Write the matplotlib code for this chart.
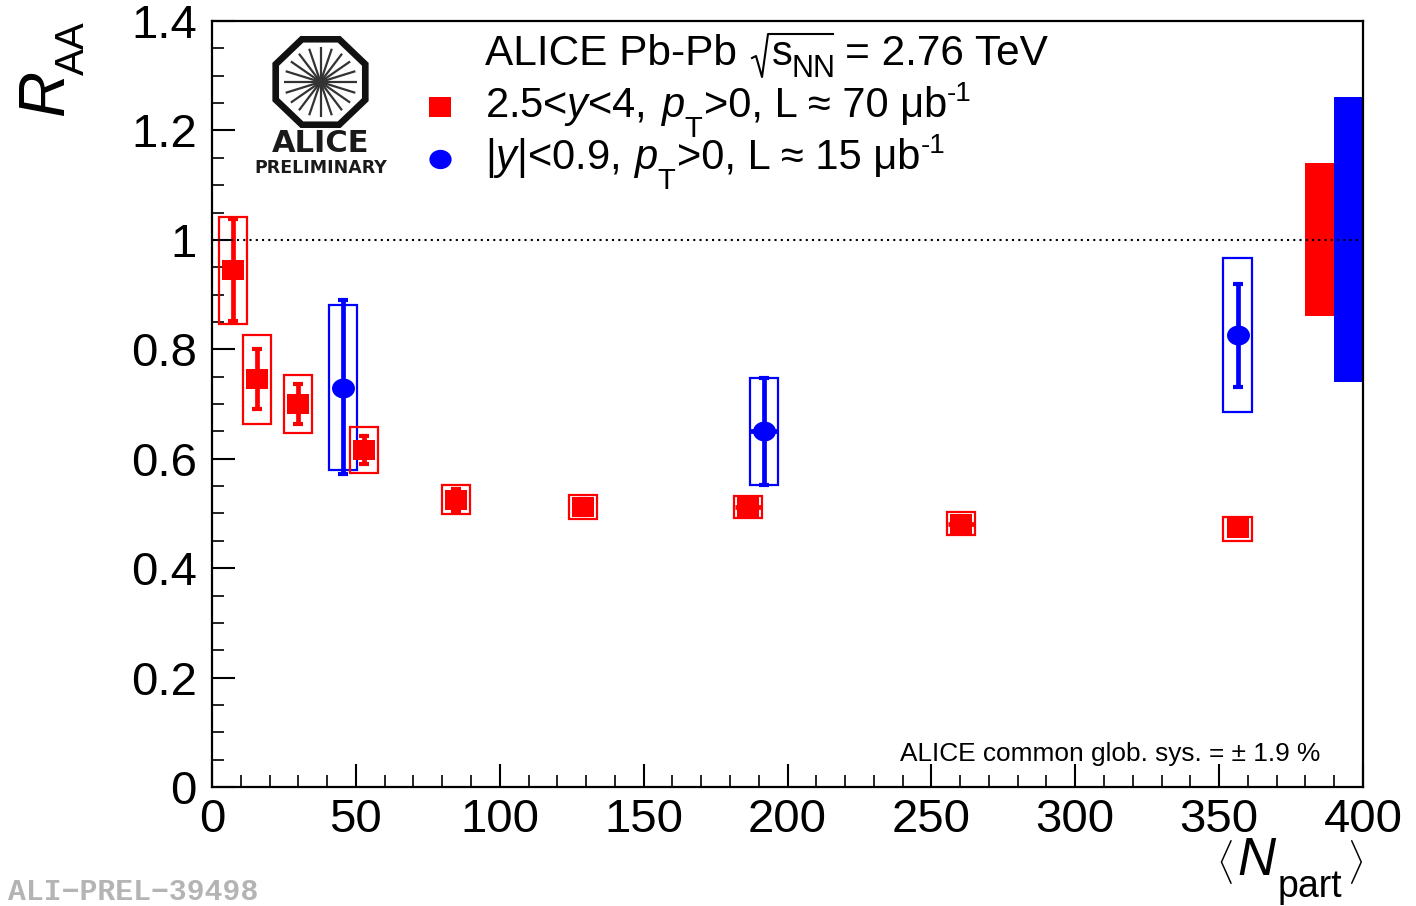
#!/usr/bin/env python

import matplotlib
matplotlib.use('Agg')
import matplotlib.pyplot as plt
import numpy as np
from matplotlib.lines import Line2D
from matplotlib.patches import Polygon, Rectangle
from matplotlib.path import Path
from matplotlib.transforms import Affine2D

plt.rcParams['font.family'] = ['Liberation Sans', 'DejaVu Sans']
plt.rcParams['mathtext.fontset'] = 'custom'
plt.rcParams['mathtext.rm'] = 'Liberation Sans'
plt.rcParams['mathtext.it'] = 'Liberation Sans:italic'
plt.rcParams['mathtext.bf'] = 'Liberation Sans:bold'

# forward rapidity
fwd_npart = [7.3, 15.6, 29.9, 52.8, 84.8, 128.9, 186.3, 260.3, 356.5]
fwd_raa = [0.945, 0.746, 0.700, 0.616, 0.525, 0.512, 0.512, 0.481, 0.473]
fwd_stat_lo = [0.852, 0.690, 0.664, 0.590, 0.505, 0.498, 0.498, 0.468, 0.460]
fwd_stat_hi = [1.038, 0.800, 0.737, 0.642, 0.545, 0.526, 0.526, 0.494, 0.486]
fwd_sys_lo = [0.846, 0.664, 0.647, 0.574, 0.499, 0.490, 0.492, 0.461, 0.450]
fwd_sys_hi = [1.042, 0.826, 0.753, 0.658, 0.552, 0.534, 0.532, 0.503, 0.494]
fwd_xerr = [0, 0, 0, 0, 0, 0, 4.6, 4.6, 0]

# mid rapidity
mid_npart = [45.5, 191.8, 356.5]
mid_raa = [0.729, 0.651, 0.826]
mid_stat_lo = [0.572, 0.552, 0.731]
mid_stat_hi = [0.890, 0.748, 0.920]
mid_sys_lo = [0.580, 0.552, 0.686]
mid_sys_hi = [0.881, 0.748, 0.967]
mid_xerr = [0, 5.0, 0]

# global uncertainty boxes: x range, y range
fwd_global = [380, 390, 0.861, 1.141]
mid_global = [390, 400, 0.740, 1.261]

x_ticks = [0, 50, 100, 150, 200, 250, 300, 350, 400]
y_ticks = [0, 0.2, 0.4, 0.6, 0.8, 1.0, 1.2, 1.4]
y_labels = ['0', '0.2', '0.4', '0.6', '0.8', '1', '1.2', '1.4']

W, H = 1416.0, 906.0
SYS_HALF = 5.0

# the reference markers are a bit wider than tall
SQUARE = Path([(-1.15, -1), (1.15, -1), (1.15, 1), (-1.15, 1), (-1.15, -1)], closed=True)
ELLIPSE = Path.unit_circle().transformed(Affine2D().scale(1.15, 1.0))


def fx(px):
    return px / W


def fy(px):
    return 1 - px / H


def draw_points(ax, x, y, lo, hi, slo, shi, xerr, color, marker, ms):
    x = np.array(x)
    y = np.array(y)
    for i in range(len(x)):
        ax.add_patch(Rectangle((x[i] - SYS_HALF, slo[i]), 2 * SYS_HALF, shi[i] - slo[i],
                               fill=False, edgecolor=color, linewidth=1.6, zorder=3))
    ax.errorbar(x, y, yerr=[y - np.array(lo), np.array(hi) - y], fmt='none', ecolor=color,
                elinewidth=3.4, capsize=3.5, capthick=3, zorder=4)
    ax.errorbar(x, y, xerr=xerr, fmt='none', ecolor=color, elinewidth=3.4, capsize=0, zorder=4)
    ax.plot(x, y, linestyle='none', marker=marker, color=color, markersize=ms,
            markeredgewidth=0, zorder=5)


def draw_logo(fig):
    lg = fig.add_axes([fx(268), fy(128), 105 / W, 92 / H])
    lg.set_xlim(-1.09, 1.09)
    lg.set_ylim(-1.0, 1.0)
    lg.axis('off')
    ang = np.deg2rad(22.5 + 45 * np.arange(8))
    oct_x = np.cos(ang) / np.cos(np.deg2rad(22.5))
    oct_y = np.sin(ang) / np.cos(np.deg2rad(22.5))
    lg.add_patch(Polygon(np.c_[oct_x * 0.93, oct_y * 0.93], closed=True, fill=False,
                         edgecolor='#111111', linewidth=4.8, joinstyle='miter'))
    for a in np.deg2rad(np.arange(0, 180, 18)):
        r = 0.76
        lg.plot([-r * np.cos(a), r * np.cos(a)], [-r * np.sin(a), r * np.sin(a)],
                color='#333333', linewidth=1.6, solid_capstyle='butt')
    fig.text(fx(321), fy(143), 'ALICE', fontsize=22, fontweight='bold', color='#1a1a1a',
             family='DejaVu Sans', ha='center', va='center')
    fig.text(fx(321), fy(168), 'PRELIMINARY', fontsize=12.5, fontweight='bold', color='#1a1a1a',
             family='DejaVu Sans', ha='center', va='center')


def label(fig, x, y, s, size=30, **kw):
    # x, y in picture pixels, y is the baseline
    fig.text(fx(x), fy(y), s, fontsize=size, va='baseline', **kw)


fig = plt.figure(figsize=(14.16, 9.06), dpi=100)
ax = fig.add_axes([fx(212), fy(787), (1363 - 212) / W, (787 - 21) / H])
ax.set_xlim(0, 400)
ax.set_ylim(0, 1.4)

ax.axhline(1.0, color='black', linestyle=(0, (1, 2)), linewidth=1.5, zorder=6)

ax.add_patch(Rectangle((fwd_global[0], fwd_global[2]), fwd_global[1] - fwd_global[0],
                       fwd_global[3] - fwd_global[2], color='#ff0000', linewidth=0, zorder=2))
ax.add_patch(Rectangle((mid_global[0], mid_global[2]), mid_global[1] - mid_global[0],
                       mid_global[3] - mid_global[2], color='#0000ff', linewidth=0, zorder=2))

draw_points(ax, mid_npart, mid_raa, mid_stat_lo, mid_stat_hi, mid_sys_lo, mid_sys_hi, mid_xerr,
            '#0000ff', ELLIPSE, 16.5)
draw_points(ax, fwd_npart, fwd_raa, fwd_stat_lo, fwd_stat_hi, fwd_sys_lo, fwd_sys_hi, fwd_xerr,
            '#ff0000', SQUARE, 16.5)

ax.set_xticks(x_ticks)
ax.set_yticks(y_ticks)
ax.set_yticklabels(y_labels)
ax.set_xticks(np.arange(0, 401, 10), minor=True)
ax.set_yticks(np.arange(0, 1.401, 0.05), minor=True)
ax.tick_params(which='major', direction='in', length=16.5, width=1.5, labelsize=34, pad=11)
ax.tick_params(which='minor', direction='in', length=8.5, width=1.2)
ax.tick_params(axis='x', pad=8)
for s in ax.spines.values():
    s.set_linewidth(1.6)

# axis titles
fig.text(fx(46), fy(93), 'R', fontsize=46, style='italic', rotation=90, ha='center', va='center')
fig.text(fx(73), fy(48), 'AA', fontsize=29, rotation=90, ha='center', va='center')
fig.text(fx(1224), fy(862), r'$\langle$', fontsize=27, fontweight='bold', ha='center', va='center')
label(fig, 1237, 875, 'N', size=38, style='italic')
label(fig, 1278, 897, 'part', size=27)
fig.text(fx(1355), fy(862), r'$\rangle$', fontsize=27, fontweight='bold', ha='center', va='center')

# header, line 1
label(fig, 485, 65, 'ALICE Pb-Pb', size=30.5)
fig.add_artist(Line2D([fx(752), fx(756), fx(762), fx(768), fx(833)],
                      [fy(58), fy(56), fy(77), fy(34), fy(34)], color='black', linewidth=1.5))
label(fig, 772, 65, 's')
label(fig, 792, 77, 'NN', size=22)
label(fig, 845, 65, '= 2.76 TeV', size=30.5)

# header, line 2
label(fig, 485, 117, r'2.5<$y$<4,')
label(fig, 661, 117, 'p', style='italic')
label(fig, 684, 137, 'T', size=21)
label(fig, 704, 117, '>0, L ≈ 70 μb')
label(fig, 947, 101, '-1', size=20)

# header, line 3
label(fig, 485, 169, r'|$y$|<0.9,')
label(fig, 634, 169, 'p', style='italic')
label(fig, 657, 189, 'T', size=21)
label(fig, 677, 169, '>0, L ≈ 15 μb')
label(fig, 921, 153, '-1', size=20)

# legend markers sit in the header, outside the data
ax.plot([0.198], [0.8877], transform=ax.transAxes, marker=SQUARE, color='#ff0000', markersize=16,
        markeredgewidth=0, linestyle='none', zorder=7)
ax.plot([0.198], [0.8198], transform=ax.transAxes, marker=ELLIPSE, color='#0000ff', markersize=16,
        markeredgewidth=0, linestyle='none', zorder=7)

fig.text(fx(900), fy(754), 'ALICE common glob. sys. = ± 1.9 %', fontsize=18.9, va='center')
fig.text(fx(8), fy(892), 'ALI\u2212PREL\u221239498', fontsize=21.4, fontweight='bold', color='#b4b4b4',
         family=['Liberation Mono', 'DejaVu Sans Mono'], va='center')

draw_logo(fig)

plt.savefig('out.png', dpi=100)
plt.close(fig)
